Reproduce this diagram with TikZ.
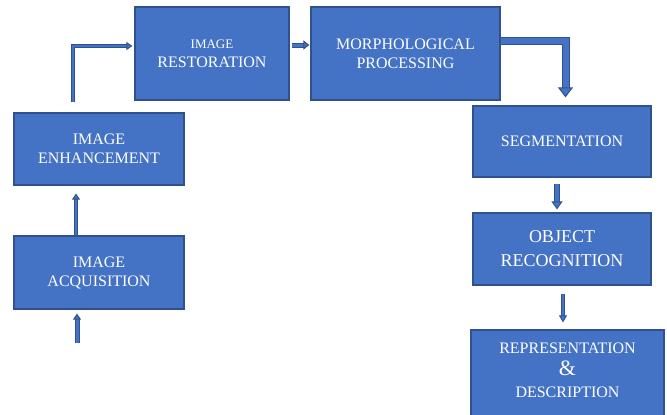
\documentclass[tikz,border=0pt]{standalone}
\usepackage{fontspec}
\setmainfont{Liberation Serif}
\usetikzlibrary{arrows.meta,calc}
\definecolor{boxfill}{HTML}{4472C4}
\definecolor{boxedge}{HTML}{2F528F}
\definecolor{arredge}{HTML}{2F528F}
\tikzset{
  box/.style={draw=boxedge, fill=boxfill, line width=1.2pt, text=white, align=center,
    inner sep=0pt, font=\fontsize{16}{19}\selectfont},
  btxt/.style={text=white, align=center, inner sep=0pt, font=\fontsize{16}{22}\selectfont},
  ba/.style n args={3}{draw=arredge, line width=1pt, line join=miter, double=boxfill,
    double distance=#1, -{Triangle[width=#2, length=#3, line width=1pt, fill=boxfill]}},
}
\begin{document}
\begin{tikzpicture}[x=1pt, y=-1pt]
\useasboundingbox (0,0) rectangle (667,415);
% boxes
\node[box, minimum width=170pt, minimum height=73pt] (acq) at (99,272.5) {IMAGE\\ACQUISITION};
\node[box, minimum width=170pt, minimum height=72pt] (enh) at (99,149) {IMAGE\\ENHANCEMENT};
\node[box, minimum width=154pt, minimum height=93pt] (res) at (212,53.5)
  {{\fontsize{13}{19}\selectfont IMAGE}\\RESTORATION};
\node[box, minimum width=189pt, minimum height=93pt] (mor) at (405.5,53.5) {MORPHOLOGICAL\\PROCESSING};
\node[box, minimum width=178pt, minimum height=71pt] (seg) at (562,141.5) {SEGMENTATION};
\node[box, minimum width=178pt, minimum height=72pt, font=\fontsize{18}{24}\selectfont] (obj) at (562,249) {OBJECT\\RECOGNITION};
\node[box, minimum width=193pt, minimum height=100pt] (rep) at (567.5,380) {};
\node[btxt] (reptxt) at (567.5,370.5) {REPRESENTATION\\{\fontsize{22}{22}\selectfont\&}\\DESCRIPTION};
% arrows
\coordinate (src) at (77,343);
\draw[ba={3pt}{8pt}{6pt}] (src) -- ($(acq.south -| src)+(0,4)$);
\draw[ba={2.5pt}{8pt}{6pt}] ($(acq.north -| 76,0)$) -- ($(enh.south -| 76,0)+(0,8)$);
\coordinate (k1) at (73,46);
\draw[ba={2.5pt}{8pt}{6pt}] ($(enh.north -| k1)+(0,-10)$) -- (k1) -- ($(k1 -| res.west)+(-2,0)$);
\draw[ba={3pt}{9pt}{6pt}] ($(res.east |- 0,45)+(2,0)$) -- ($(mor.west |- 0,45)+(-1,0)$);
\coordinate (k2) at (565.5,41);
\draw[ba={6pt}{15pt}{10pt}] (mor.east |- k2) -- (k2) -- ($(k2 |- seg.north)+(0,-8)$);
\draw[ba={4pt}{11pt}{8pt}] ($(seg.south -| 557,0)+(0,6)$) -- ($(obj.north -| 557,0)+(0,-3)$);
\draw[ba={2.5pt}{8pt}{7pt}] ($(obj.south -| 563,0)+(0,8)$) -- ($(rep.north -| 563,0)+(0,-7)$);
\end{tikzpicture}
\end{document}
